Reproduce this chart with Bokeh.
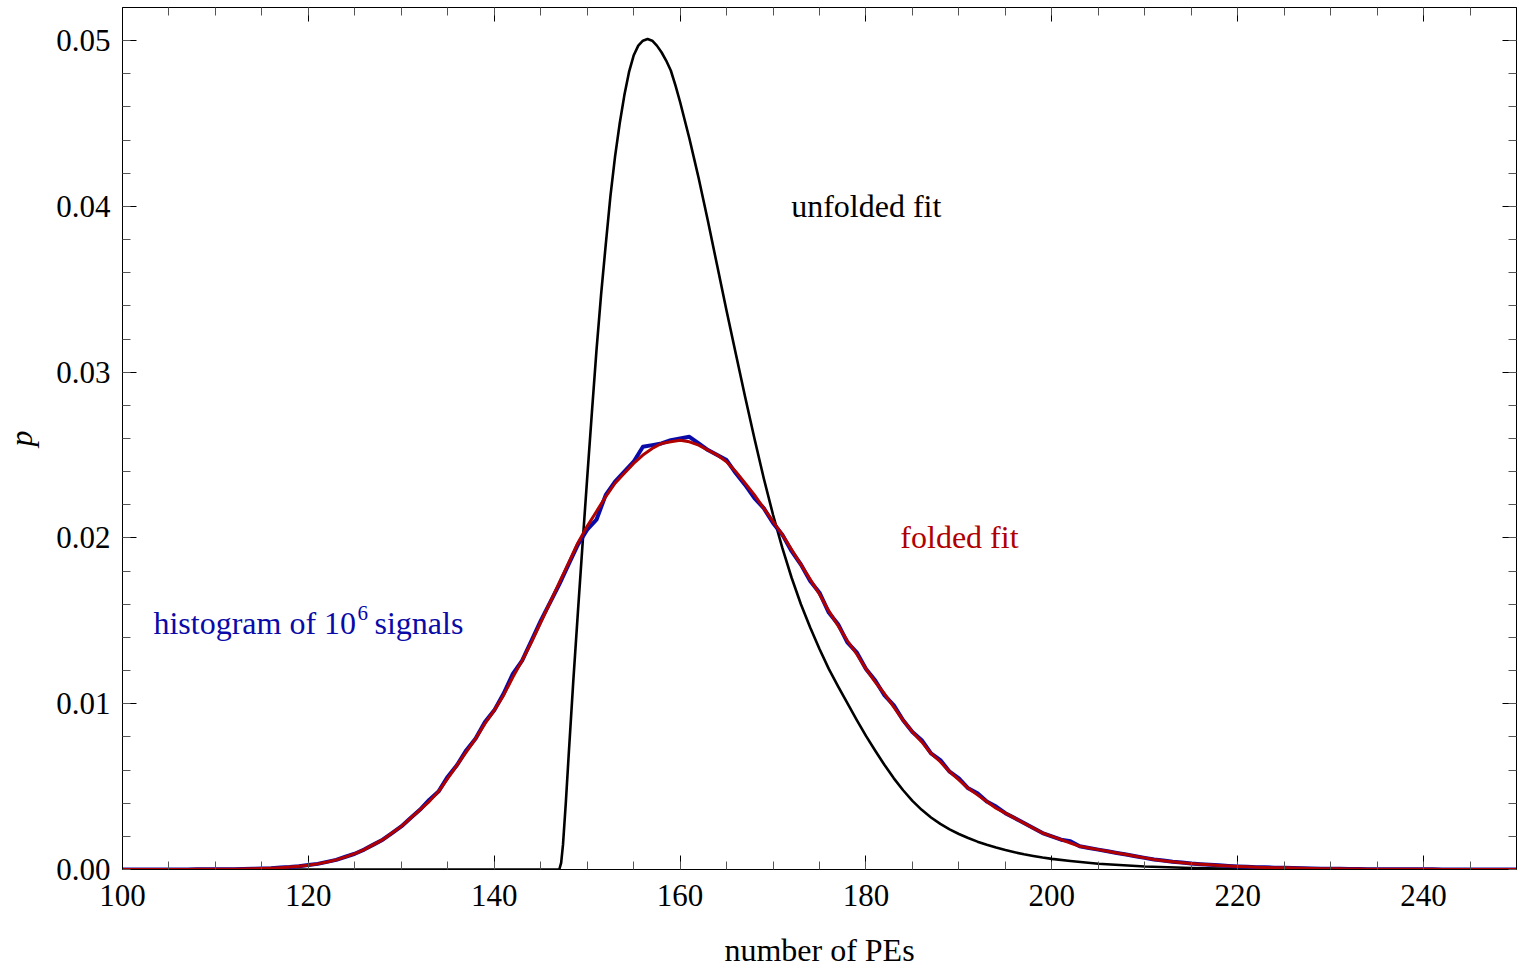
from bokeh.plotting import figure
from bokeh.models import LinearAxis, FixedTicker, Label, Range1d, PrintfTickFormatter, ColumnDataSource, CustomJSTickFormatter
from bokeh.embed import file_html
from bokeh.resources import INLINE

# ---------------- data ----------------
# unfolded fit (black)
unfolded_x = [100, 110, 120, 130, 140, 146.5, 147.0, 147.2, 147.4, 147.7, 148.0, 148.5, 149.0,
              149.5, 150.0, 150.5, 151.0, 151.5, 152.0, 152.5, 153.0, 153.5, 154.0, 154.5,
              155.0, 155.5, 156.0, 156.5, 157.0, 157.5, 158.0, 158.5, 159.0, 159.5, 160.0,
              160.5, 161.0, 161.5, 162.0, 162.5, 163.0, 164.0, 165.0, 166.0, 167.0, 168.0,
              169.0, 170.0, 171.0, 172.0, 173.0, 174.0, 175.0, 176.0, 177.0, 178.0, 179.0, 180.0,
              181.0, 182.0, 183.0, 184.0, 185.0, 186.0, 187.0, 188.0, 189.0, 190.0, 191.0, 192.0,
              193.0, 194.0, 195.0, 196.0, 197.0, 198.0, 199.0, 200.0, 202.0, 205.0, 210.0, 215.0,
              220.0, 225.0, 230.0, 240.0, 250.0]
unfolded_y = [0, 0, 0, 0, 0, 0, 0, 0.0004, 0.0015, 0.0040, 0.0068, 0.0113, 0.0155,
              0.0196, 0.0236, 0.0275, 0.0313, 0.0347, 0.0377, 0.0406, 0.0430, 0.0450, 0.0467, 0.0481,
              0.0491, 0.0497, 0.0500, 0.0501, 0.0500, 0.0497, 0.0493, 0.0488, 0.0482, 0.0473, 0.0463,
              0.0452, 0.0441, 0.0429, 0.0417, 0.0404, 0.0391, 0.0364, 0.0337, 0.0311, 0.0285, 0.0260,
              0.0236, 0.0214, 0.0194, 0.0176, 0.0160, 0.0146, 0.0133, 0.0121, 0.01105, 0.01003, 0.00903, 0.00806,
              0.00716, 0.00630, 0.00550, 0.00478, 0.00414, 0.00360, 0.00314, 0.00275, 0.00242, 0.00214, 0.00190, 0.00168,
              0.00149, 0.00132, 0.00117, 0.00104, 0.00092, 0.00082, 0.00072, 0.00064, 0.00051, 0.00035, 0.00018, 0.00009,
              0.00004, 0.00002, 0.00001, 0, 0]

# number of PEs (integer bins) for the histogram and the folded fit
pe = list(range(100, 251))

folded = [
    0, 0, 0, 0, 0, 0, 0, 0, 0.00001, 0.00001,
    0.00001, 0.00002, 0.00002, 0.00003, 0.00004, 0.00006, 0.00008, 0.00011, 0.00015, 0.0002,
    0.00026, 0.00034, 0.00045, 0.00058, 0.00076, 0.00096, 0.0012, 0.0015, 0.0018, 0.0022,
    0.0026, 0.0031, 0.0036, 0.0041, 0.0047, 0.0055, 0.0063, 0.0071, 0.0079, 0.0088,
    0.0096, 0.0105, 0.0116, 0.0126, 0.0137, 0.0149, 0.0161, 0.0173, 0.0185, 0.0197,
    0.0207, 0.0216, 0.0225, 0.0233, 0.0239, 0.0245, 0.0250, 0.0254, 0.0257, 0.0258,
    0.0259, 0.0258, 0.0256, 0.0253, 0.0250, 0.0246, 0.0240, 0.0233, 0.0226, 0.0218,
    0.0210, 0.0202, 0.0193, 0.0184, 0.0175, 0.0166, 0.0156, 0.0147, 0.0138, 0.0130,
    0.0121, 0.0113, 0.0106, 0.0098, 0.0090, 0.0083, 0.0077, 0.0070, 0.0065, 0.0059,
    0.0054, 0.0049, 0.0045, 0.0041, 0.0037, 0.0034, 0.0031, 0.0028, 0.0025, 0.0022,
    0.0020, 0.0018, 0.0016, 0.0014, 0.0013, 0.0012, 0.0011, 0.0010, 0.0009, 0.0008,
    0.0007, 0.0006, 0.00053, 0.00047, 0.00041, 0.00036, 0.00032, 0.00028, 0.00024, 0.00021,
    0.00018, 0.00016, 0.00014, 0.00012, 0.00011, 0.0001, 0.00009, 0.00007, 0.00006, 0.00005,
    0.00004, 0.00004, 0.00003, 0.00003, 0.00002, 0.00002, 0.00002, 0.00001, 0.00001, 0.00001,
    0.00001, 0.00001, 0, 0, 0, 0, 0, 0, 0, 0, 0]

histogram = [
    0, 0, 0, 0, 0, 0, 0, 0, 0.00001, 0.00001,
    0.00001, 0.00002, 0.00002, 0.00003, 0.00004, 0.00006, 0.00008, 0.00012, 0.00015, 0.0002,
    0.00027, 0.00034, 0.00046, 0.00058, 0.00077, 0.00095, 0.0012, 0.0015, 0.0018, 0.0022,
    0.0026, 0.0031, 0.0036, 0.0042, 0.0047, 0.0056, 0.0063, 0.0072, 0.0079, 0.0089,
    0.0096, 0.0106, 0.0118, 0.0126, 0.0138, 0.0150, 0.0161, 0.0172, 0.0184, 0.0196,
    0.0205, 0.0211, 0.0226, 0.0234, 0.0240, 0.0246, 0.0255, 0.0256, 0.0257, 0.0259,
    0.0260, 0.0261, 0.0257, 0.0253, 0.0250, 0.0247, 0.0239, 0.0232, 0.0224, 0.0218,
    0.0209, 0.0202, 0.0192, 0.0184, 0.0174, 0.0167, 0.0155, 0.0148, 0.0137, 0.0131,
    0.0121, 0.0114, 0.0105, 0.0099, 0.0090, 0.0083, 0.0078, 0.0070, 0.0066, 0.0059,
    0.0055, 0.0049, 0.0046, 0.0041, 0.0038, 0.0034, 0.0031, 0.0028, 0.0025, 0.0022,
    0.0020, 0.0018, 0.0017, 0.0014, 0.0013, 0.0012, 0.0011, 0.0010, 0.0009, 0.0008,
    0.0007, 0.0006, 0.00054, 0.00047, 0.00042, 0.00036, 0.00032, 0.00028, 0.00025, 0.00021,
    0.00018, 0.00016, 0.00014, 0.00013, 0.00011, 0.0001, 0.00009, 0.00007, 0.00006, 0.00005,
    0.00004, 0.00004, 0.00003, 0.00003, 0.00002, 0.00002, 0.00002, 0.00001, 0.00001, 0.00001,
    0.00001, 0.00001, 0, 0, 0, 0, 0, 0, 0, 0, 0]

x_major = [100, 120, 140, 160, 180, 200, 220, 240]
x_minor = list(range(100, 251, 5))
y_major = [0.0, 0.01, 0.02, 0.03, 0.04, 0.05]
y_minor = [i * 0.002 for i in range(0, 27)]

x_title = "number of PEs"
y_title = "p"

FONT = "Liberation Serif"
BLUE = "#0a0aa8"
RED = "#b00000"

# ---------------- figure ----------------
p = figure(width=1523, height=970, x_range=Range1d(100, 250), y_range=Range1d(0, 0.052),
           output_backend="svg", toolbar_location=None,
           min_border_left=122, min_border_right=7, min_border_top=7, min_border_bottom=101)
p.xgrid.visible = False
p.ygrid.visible = False
p.outline_line_color = "black"
p.outline_line_width = 1
p.background_fill_color = "white"
p.border_fill_color = "white"

src_u = ColumnDataSource(dict(x=unfolded_x, y=unfolded_y))
src_h = ColumnDataSource(dict(x=pe, y=histogram, f=folded))

p.line("x", "y", source=src_u, line_color="black", line_width=2.6, line_join="round")
p.line("x", "y", source=src_h, line_color=BLUE, line_width=4, line_join="round")
p.line("x", "f", source=src_h, line_color=RED, line_width=3, line_join="round")


def style_axis(ax, ticks, minor, labels=True):
    ax.ticker = FixedTicker(ticks=ticks, minor_ticks=minor)
    ax.major_tick_in = 14
    ax.major_tick_out = 0
    ax.minor_tick_in = 8
    ax.minor_tick_out = 0
    ax.major_tick_line_color = "black"
    ax.minor_tick_line_color = "#555555"
    ax.axis_line_color = "black"
    ax.major_label_text_font = FONT
    ax.major_label_text_color = "black"
    ax.major_label_text_font_size = "31px"
    if not labels:
        ax.formatter = CustomJSTickFormatter(code="return ''")
        ax.major_label_standoff = 0


xb = p.xaxis[0]
style_axis(xb, x_major, x_minor)
xb.major_label_standoff = 15
xb.axis_label = x_title
xb.axis_label_text_font = FONT
xb.axis_label_text_font_size = "32px"
xb.axis_label_text_font_style = "normal"
xb.axis_label_text_color = "black"
xb.axis_label_standoff = 23

yl = p.yaxis[0]
style_axis(yl, y_major, y_minor)
yl.formatter = PrintfTickFormatter(format="%.2f")
yl.major_label_standoff = 12
yl.axis_label = y_title
yl.axis_label_text_font = FONT
yl.axis_label_text_font_size = "32px"
yl.axis_label_text_font_style = "italic"
yl.axis_label_text_color = "black"
yl.axis_label_standoff = 14

xt = LinearAxis()
style_axis(xt, x_major, x_minor, labels=False)
p.add_layout(xt, "above")

yr = LinearAxis()
style_axis(yr, y_major, y_minor, labels=False)
p.add_layout(yr, "right")

# ---------------- annotations ----------------
UP = 11
p.add_layout(Label(x=171.95, y=0.03935, y_offset=UP, text="unfolded fit", text_font=FONT,
                   text_font_size="32px", text_color="black", text_baseline="alphabetic"))
p.add_layout(Label(x=183.7, y=0.0194, y_offset=UP, text="folded fit", text_font=FONT,
                   text_font_size="32px", text_color=RED, text_baseline="alphabetic"))
p.add_layout(Label(x=103.33, y=0.01421, y_offset=UP, text="histogram of 10", text_font=FONT,
                   text_font_size="32px", text_color=BLUE, text_baseline="alphabetic"))
p.add_layout(Label(x=103.33, y=0.01421, x_offset=204, y_offset=UP + 10, text="6", text_font=FONT,
                   text_font_size="21px", text_color=BLUE, text_baseline="alphabetic"))
p.add_layout(Label(x=103.33, y=0.01421, x_offset=221, y_offset=UP, text="signals", text_font=FONT,
                   text_font_size="32px", text_color=BLUE, text_baseline="alphabetic"))

open("out.html", "w").write(file_html(p, INLINE))
